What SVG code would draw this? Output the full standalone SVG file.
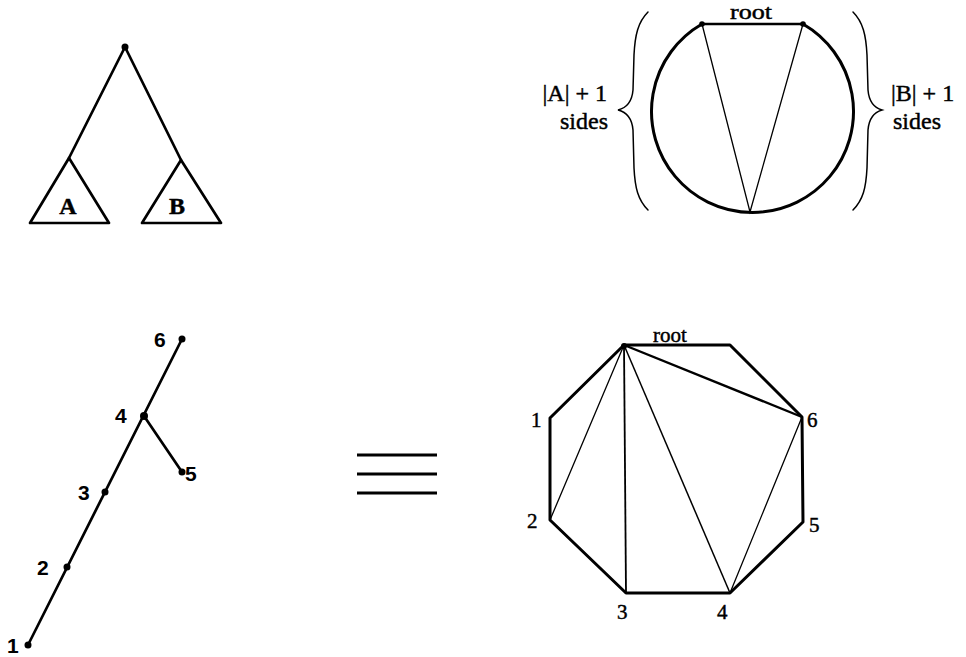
<svg xmlns="http://www.w3.org/2000/svg" width="966" height="657" viewBox="0 0 966 657">
<style>
.serif{font-family:"Liberation Serif","Times New Roman",serif;fill:#000;stroke:#000;stroke-width:0.45}
.sans{font-family:"Liberation Sans",Arial,sans-serif;fill:#000;font-weight:bold}
.thick{stroke:#000;stroke-width:2.7;fill:none;stroke-linecap:round;stroke-linejoin:round}
.thin{stroke:#000;stroke-width:1.3;fill:none;stroke-linecap:round}
.brace{stroke:#000;stroke-width:1.5;fill:none;stroke-linecap:round}
</style>
<rect width="966" height="657" fill="#fff"/>

<!-- Top-left binary tree -->
<g id="connectors-top">
  <path class="thick" d="M69,158 L125,47 L181,160"/>
</g>
<g id="root-top"><circle cx="125" cy="47" r="3.5" fill="#000"/></g>
<g id="subtree-A">
  <path class="thick" d="M69,158 L30,223 L109,223 Z"/>
  <text class="serif" x="68" y="214" font-size="24" font-weight="bold" stroke-width="0" text-anchor="middle">A</text>
</g>
<g id="subtree-B">
  <path class="thick" d="M181,160 L142,223 L221,223 Z"/>
  <text class="serif" x="177" y="214" font-size="24" font-weight="bold" stroke-width="0" text-anchor="middle">B</text>
</g>

<!-- Top-right circle -->
<g id="circle-fig">
  <path d="M702,24 A101,101 0 1,0 803,24" stroke="#000" stroke-width="3" fill="none"/>
  <line x1="702" y1="24" x2="803" y2="24" stroke="#000" stroke-width="2.6"/>
  <path class="thin" d="M702,24 L750,212 L803,24"/>
  <circle cx="702" cy="24" r="2.8" fill="#000"/>
  <circle cx="803" cy="24" r="2.8" fill="#000"/>
  <text class="serif" x="751" y="19" font-size="21" text-anchor="middle" textLength="42" lengthAdjust="spacingAndGlyphs">root</text>
</g>
<g id="brace-left">
  <path class="brace" d="M648,12 C638,22 635,35 634,55 L633,90 C632,102 626,108 618,110 C626,112 632,118 633,130 L634,168 C635,188 638,200 648,210"/>
  <text class="serif" x="607" y="101" font-size="24" text-anchor="end">|A| + 1</text>
  <text class="serif" x="608" y="129" font-size="24" text-anchor="end">sides</text>
</g>
<g id="brace-right">
  <path class="brace" d="M853,12 C863,22 866,35 867,55 L868,90 C869,102 875,108 882,110 C875,112 869,118 868,130 L867,168 C866,188 863,200 853,210"/>
  <text class="serif" x="891" y="101" font-size="24">|B| + 1</text>
  <text class="serif" x="893" y="129" font-size="24">sides</text>
</g>

<!-- Bottom-left tree -->
<g id="connectors-bottom">
  <line class="thick" x1="28" y1="645" x2="182" y2="339"/>
  <line class="thick" x1="144" y1="416" x2="182" y2="472"/>
</g>
<g id="n1"><circle cx="28" cy="645" r="3.5" fill="#000"/><text class="sans" x="7" y="653" font-size="21">1</text></g>
<g id="n2"><circle cx="67" cy="567" r="3.5" fill="#000"/><text class="sans" x="37" y="575" font-size="21">2</text></g>
<g id="n3"><circle cx="105" cy="492" r="3.5" fill="#000"/><text class="sans" x="78" y="500" font-size="21">3</text></g>
<g id="n4"><circle cx="144" cy="416" r="4" fill="#000"/><text class="sans" x="115" y="423" font-size="21">4</text></g>
<g id="n5"><circle cx="182" cy="472" r="3.5" fill="#000"/><text class="sans" x="185" y="481" font-size="21">5</text></g>
<g id="n6"><circle cx="182" cy="339" r="3.5" fill="#000"/><text class="sans" x="154" y="347" font-size="21">6</text></g>

<!-- Equivalence sign -->
<g id="equiv">
  <line x1="357" y1="455" x2="437" y2="455" stroke="#000" stroke-width="3"/>
  <line x1="357" y1="474" x2="437" y2="474" stroke="#000" stroke-width="3"/>
  <line x1="357" y1="493" x2="437" y2="493" stroke="#000" stroke-width="3"/>
</g>

<!-- Bottom-right octagon -->
<g id="octagon">
  <polygon points="624,345 730,345 802,417 803,522 730,593 626,593 550,520 550,418" stroke="#000" stroke-width="3" fill="none" stroke-linejoin="round"/>
  <line class="thin" x1="624" y1="345" x2="550" y2="520"/>
  <line x1="624" y1="345" x2="626" y2="593" stroke="#000" stroke-width="1.8"/>
  <line x1="624" y1="345" x2="730" y2="593" stroke="#000" stroke-width="1.5"/>
  <line x1="624" y1="345" x2="802" y2="417" stroke="#000" stroke-width="2.4"/>
  <line class="thin" x1="802" y1="417" x2="730" y2="593"/>
  <circle cx="624" cy="346" r="3" fill="#000"/>
  <text class="serif" x="670" y="342" font-size="21" text-anchor="middle">root</text>
  <text class="serif" x="531" y="427" font-size="21">1</text>
  <text class="serif" x="527" y="528" font-size="21">2</text>
  <text class="serif" x="617" y="619" font-size="21">3</text>
  <text class="serif" x="717" y="619" font-size="21">4</text>
  <text class="serif" x="809" y="532" font-size="21">5</text>
  <text class="serif" x="807" y="427" font-size="21">6</text>
</g>
</svg>
